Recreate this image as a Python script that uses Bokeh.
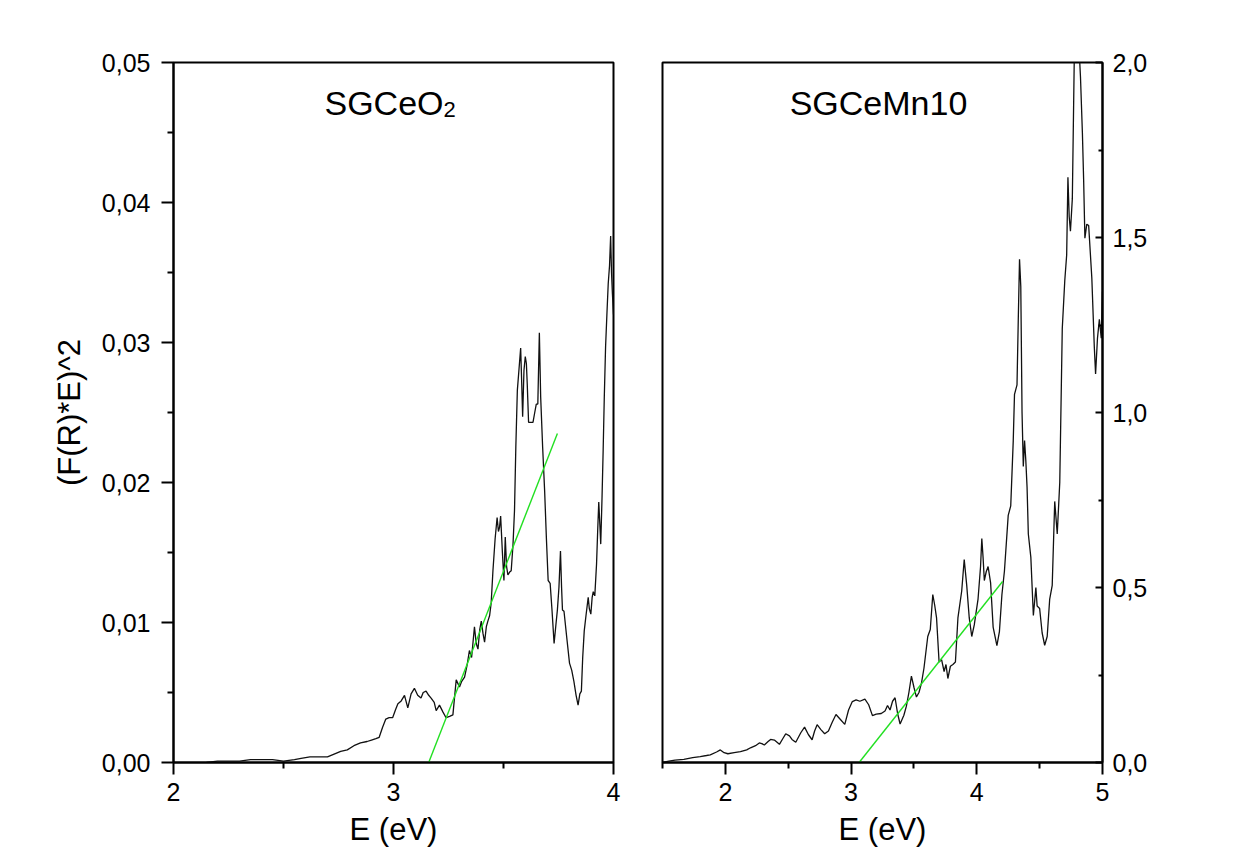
import numpy as np
from bokeh.plotting import figure
from bokeh.layouts import row
from bokeh.models import Range1d, FixedTicker, CustomJSTickFormatter, Label
from bokeh.embed import file_html
from bokeh.resources import INLINE

# ---------------- data ----------------
left_E = [2.15, 2.20, 2.25, 2.30, 2.35, 2.40, 2.45, 2.50, 2.55, 2.58, 2.62, 2.66, 2.70,
          2.73, 2.76, 2.79, 2.82, 2.85, 2.88, 2.90, 2.92, 2.935, 2.95, 2.965, 2.98, 2.996,
          3.01, 3.02, 3.035, 3.05, 3.065, 3.08, 3.095, 3.11, 3.125, 3.135, 3.148, 3.16,
          3.171, 3.185, 3.194, 3.209, 3.225, 3.239, 3.255, 3.27, 3.285, 3.30, 3.31, 3.323,
          3.335, 3.345, 3.355, 3.368, 3.376, 3.384, 3.392, 3.399, 3.407, 3.414, 3.422,
          3.429, 3.437, 3.444, 3.452, 3.462, 3.471, 3.477, 3.482, 3.487, 3.495, 3.502,
          3.508, 3.514, 3.52, 3.528, 3.535, 3.543, 3.55, 3.556, 3.563, 3.57, 3.578, 3.583,
          3.587, 3.593, 3.599, 3.604, 3.608, 3.614, 3.624, 3.634, 3.642, 3.649, 3.656,
          3.663, 3.669, 3.678, 3.687, 3.695, 3.703, 3.712, 3.72, 3.73, 3.738, 3.745,
          3.752, 3.759, 3.764, 3.768, 3.775, 3.787, 3.80, 3.81, 3.82, 3.83, 3.839, 3.847,
          3.854, 3.86, 3.867, 3.875, 3.885, 3.89, 3.897, 3.903, 3.908, 3.915, 3.923,
          3.928, 3.933, 3.938, 3.942, 3.948, 3.953, 3.958, 3.964, 3.97, 3.976, 3.982,
          3.987, 3.991, 3.995, 4.0]
left_val = [0.0000, 0.0001, 0.0001, 0.0001, 0.0002, 0.0002, 0.0002, 0.0001, 0.0002, 0.0003,
            0.0004, 0.0004, 0.0004, 0.0006, 0.0008, 0.0009, 0.0012, 0.0014, 0.0015, 0.0016,
            0.0017, 0.0018, 0.0025, 0.0031, 0.0032, 0.0032, 0.0038, 0.0042, 0.0044, 0.0048,
            0.0039, 0.0049, 0.0053, 0.0048, 0.0046, 0.0050, 0.0051, 0.0048, 0.0046, 0.0043,
            0.0037, 0.0041, 0.0036, 0.0032, 0.0033, 0.0034, 0.0059, 0.0054, 0.0058, 0.0061,
            0.0070, 0.0080, 0.0075, 0.0097, 0.0085, 0.0081, 0.0095, 0.0101, 0.0092, 0.0086,
            0.0097, 0.0101, 0.0105, 0.0114, 0.0137, 0.0160, 0.0175, 0.0165, 0.0168, 0.0176,
            0.0150, 0.0130, 0.0161, 0.0140, 0.0134, 0.0136, 0.0137, 0.0155, 0.0180, 0.0225,
            0.0266, 0.0280, 0.0296, 0.0270, 0.0247, 0.0280, 0.0290, 0.0285, 0.0270, 0.0243,
            0.0243, 0.0243, 0.0250, 0.0256, 0.0256, 0.0307, 0.0261, 0.0225, 0.0194, 0.0160,
            0.0130, 0.0128, 0.0110, 0.0085, 0.0098, 0.0109, 0.0125, 0.0151, 0.0125, 0.0109,
            0.0108, 0.0090, 0.0071, 0.0066, 0.0058, 0.0048, 0.0041, 0.0049, 0.0051, 0.0075,
            0.0094, 0.0105, 0.0118, 0.0110, 0.0106, 0.0118, 0.0122, 0.0119, 0.0142, 0.0165,
            0.0186, 0.0170, 0.0156, 0.0190, 0.0223, 0.0260, 0.0297, 0.0320, 0.0342, 0.0355,
            0.0376, 0.0350, 0.0335, 0.0320]

right_E = [1.50, 1.55, 1.60, 1.67, 1.74, 1.80, 1.85, 1.88, 1.93, 1.96, 1.99, 2.02, 2.07,
           2.12, 2.17, 2.20, 2.24, 2.27, 2.29, 2.31, 2.34, 2.36, 2.39, 2.43, 2.46, 2.48,
           2.51, 2.53, 2.56, 2.60, 2.63, 2.66, 2.69, 2.71, 2.73, 2.76, 2.79, 2.82, 2.85,
           2.88, 2.91, 2.95, 2.98, 3.01, 3.04, 3.07, 3.11, 3.14, 3.17, 3.20, 3.24, 3.27,
           3.29, 3.31, 3.33, 3.35, 3.37, 3.39, 3.42, 3.44, 3.46, 3.48, 3.50, 3.52, 3.54,
           3.56, 3.58, 3.61, 3.63, 3.65, 3.665, 3.68, 3.70, 3.72, 3.74, 3.755, 3.77, 3.79,
           3.81, 3.83, 3.85, 3.88, 3.90, 3.92, 3.94, 3.96, 3.98, 4.01, 4.03, 4.04, 4.05,
           4.06, 4.075, 4.09, 4.11, 4.13, 4.16, 4.18, 4.20, 4.22, 4.25, 4.27, 4.29, 4.30,
           4.32, 4.33, 4.34, 4.345, 4.35, 4.36, 4.37, 4.38, 4.39, 4.40, 4.41, 4.43, 4.45,
           4.47, 4.48, 4.50, 4.52, 4.54, 4.56, 4.58, 4.60, 4.62, 4.64, 4.66, 4.68, 4.70,
           4.715, 4.725, 4.735, 4.745, 4.76, 4.775, 4.79, 4.80, 4.815, 4.825, 4.84, 4.85,
           4.86, 4.875, 4.89, 4.915, 4.935, 4.945, 4.96, 4.975, 4.99, 5.0]
right_val = [0.000, 0.004, 0.007, 0.009, 0.014, 0.017, 0.020, 0.022, 0.030, 0.036, 0.028,
             0.025, 0.028, 0.031, 0.036, 0.042, 0.048, 0.056, 0.054, 0.050, 0.060, 0.066,
             0.064, 0.052, 0.070, 0.082, 0.076, 0.066, 0.058, 0.085, 0.101, 0.080, 0.065,
             0.090, 0.108, 0.094, 0.082, 0.090, 0.115, 0.137, 0.125, 0.109, 0.150, 0.174,
             0.179, 0.175, 0.181, 0.165, 0.134, 0.138, 0.140, 0.147, 0.163, 0.150, 0.175,
             0.185, 0.140, 0.110, 0.135, 0.161, 0.200, 0.247, 0.215, 0.187, 0.200, 0.227,
             0.270, 0.360, 0.380, 0.480, 0.450, 0.413, 0.287, 0.294, 0.260, 0.280, 0.240,
             0.275, 0.280, 0.287, 0.413, 0.490, 0.580, 0.506, 0.413, 0.360, 0.393, 0.467,
             0.560, 0.640, 0.586, 0.520, 0.545, 0.560, 0.513, 0.387, 0.334, 0.374, 0.480,
             0.547, 0.706, 0.733, 0.919, 1.052, 1.079, 1.265, 1.438, 1.400, 1.360, 1.000,
             0.846, 0.920, 0.863, 0.786, 0.653, 0.586, 0.420, 0.500, 0.447, 0.440, 0.370,
             0.335, 0.360, 0.467, 0.506, 0.746, 0.653, 0.800, 1.240, 1.377, 1.450, 1.672,
             1.560, 1.518, 1.611, 2.000, 2.060, 2.080, 2.030, 1.957, 1.800, 1.664, 1.498,
             1.538, 1.534, 1.385, 1.186, 1.110, 1.212, 1.266, 1.212, 1.346]

left_fit_E = [3.16, 3.745]
left_fit_val = [0.0, 0.0235]
right_fit_E = [3.064, 4.205]
right_fit_val = [0.0, 0.517]

left_xticks = [2, 3, 4]
left_xminor = [2.5, 3.5]
left_yticks = [0.0, 0.01, 0.02, 0.03, 0.04, 0.05]
left_yminor = [0.005, 0.015, 0.025, 0.035, 0.045]
right_xticks = [2, 3, 4, 5]
right_xminor = [1.5, 2.5, 3.5, 4.5]
right_yticks = [0.0, 0.5, 1.0, 1.5, 2.0]
right_yminor = [0.25, 0.75, 1.25, 1.75]

left_title_main, left_title_sub = "SGCeO", "2"
right_title = "SGCeMn10"
y_title = "(F(R)*E)^2"
x_title = "E (eV)"

FONT = "Liberation Sans"
GREEN = "#22e022"
TICK_FS = "25px"
TITLE_FS = "31px"


def style_common(p):
    p.grid.visible = False
    p.outline_line_color = "black"
    p.outline_line_width = 2
    p.background_fill_color = "white"
    p.border_fill_color = "white"


def style_axis(ax, fmt_code, tick_in=0, tick_out=12, minor_in=0, minor_out=6, standoff=10):
    ax.formatter = CustomJSTickFormatter(code=fmt_code)
    ax.axis_line_color = "black"
    ax.axis_line_width = 2
    ax.major_tick_line_color = "black"
    ax.major_tick_line_width = 2
    ax.minor_tick_line_color = "black"
    ax.minor_tick_line_width = 2
    ax.major_tick_in = tick_in
    ax.major_tick_out = tick_out
    ax.minor_tick_in = minor_in
    ax.minor_tick_out = minor_out
    ax.major_label_text_font = FONT
    ax.major_label_text_font_size = TICK_FS
    ax.major_label_text_color = "black"
    ax.major_label_standoff = standoff
    ax.axis_label_text_font = FONT
    ax.axis_label_text_font_size = TITLE_FS
    ax.axis_label_text_font_style = "normal"
    ax.axis_label_text_color = "black"


# ---------------- left panel ----------------
p1 = figure(frame_width=440, frame_height=700, min_border_left=173, min_border_right=10,
            min_border_top=62, min_border_bottom=94,
            x_range=Range1d(2, 4), y_range=Range1d(0, 0.05),
            output_backend="svg", toolbar_location=None, tools="")
style_common(p1)
p1.xaxis.ticker = FixedTicker(ticks=left_xticks, minor_ticks=left_xminor)
p1.yaxis.ticker = FixedTicker(ticks=left_yticks, minor_ticks=left_yminor)
style_axis(p1.xaxis[0], "return tick.toFixed(0);", standoff=8)
style_axis(p1.yaxis[0], "return tick.toFixed(2).replace('.', ',');", standoff=11)
p1.xaxis.axis_label = x_title
p1.xaxis.axis_label_standoff = 8
p1.yaxis.axis_label = y_title
p1.yaxis.axis_label_standoff = 12

p1.line(left_E, left_val, line_color="#111111", line_width=1.3)
p1.line(left_fit_E, left_fit_val, line_color=GREEN, line_width=1.4)

fs_t = 34
w_main = 3.501 * fs_t
p1.add_layout(Label(x=3, y=0.05, x_offset=-69, y_offset=-40, text=left_title_main,
                    text_font=FONT, text_font_size=f"{fs_t}px", text_align="left",
                    text_baseline="alphabetic", text_color="black"))
p1.add_layout(Label(x=3, y=0.05, x_offset=-69 + w_main, y_offset=-47, text=left_title_sub,
                    text_font=FONT, text_font_size="22px", text_align="left",
                    text_baseline="alphabetic", text_color="black"))

# ---------------- right panel ----------------
p2 = figure(frame_width=440, frame_height=700, min_border_left=39, min_border_right=130,
            min_border_top=62, min_border_bottom=94,
            x_range=Range1d(1.5, 5), y_range=Range1d(0, 2.0), y_axis_location="right",
            output_backend="svg", toolbar_location=None, tools="")
style_common(p2)
p2.xaxis.ticker = FixedTicker(ticks=right_xticks, minor_ticks=right_xminor)
p2.yaxis.ticker = FixedTicker(ticks=right_yticks, minor_ticks=right_yminor)
style_axis(p2.xaxis[0], "return tick.toFixed(0);", standoff=8)
style_axis(p2.yaxis[0], "return tick.toFixed(1).replace('.', ',');",
           tick_in=7, tick_out=0, minor_in=4, minor_out=0, standoff=10)
p2.xaxis.axis_label = x_title
p2.xaxis.axis_label_standoff = 8

p2.line(right_E, right_val, line_color="#111111", line_width=1.3)
p2.line(right_fit_E, right_fit_val, line_color=GREEN, line_width=1.4)

p2.add_layout(Label(x=3.25, y=2.0, x_offset=-4, y_offset=-40, text=right_title,
                    text_font=FONT, text_font_size=f"{fs_t}px", text_align="center",
                    text_baseline="alphabetic", text_color="black"))

layout = row(p1, p2)
open("out.html", "w").write(file_html(layout, INLINE))
